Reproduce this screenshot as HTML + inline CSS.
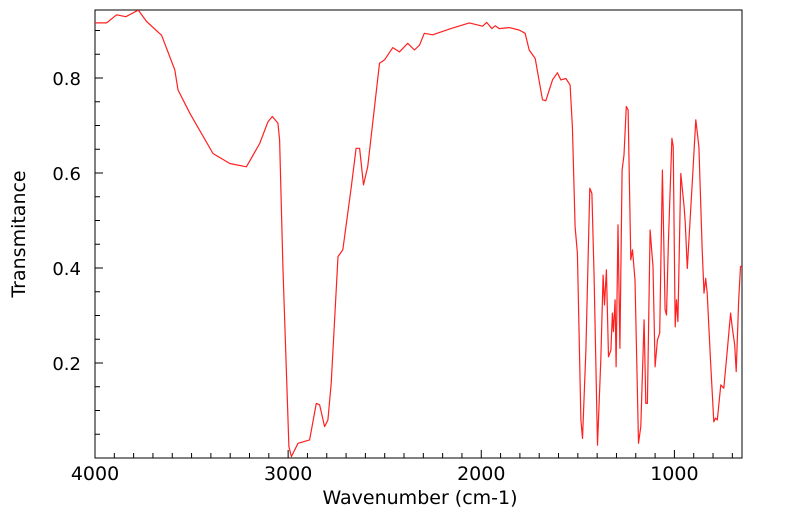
<!DOCTYPE html>
<html><head><meta charset="utf-8"><style>
body{margin:0;background:#fff;width:799px;height:516px;overflow:hidden;font-family:"DejaVu Sans",sans-serif}
</style></head><body>
<svg id="chart" width="799" height="516" xmlns="http://www.w3.org/2000/svg" font-family="DejaVu Sans, sans-serif"></svg>
<script>
const wavenumbers=[4000,3940,3888,3840,3776,3733,3655,3587,3570,3509,3389,3302,3216,3147,3104,3082,3053,3044,3027,2996,2983,2949,2889,2854,2837,2811,2794,2777,2742,2717,2673,2648,2630,2610,2588,2527,2501,2458,2424,2381,2346,2320,2295,2252,2157,2062,1993,1972,1945,1928,1907,1855,1804,1773,1752,1721,1683,1666,1631,1606,1588,1562,1540,1528,1514,1502,1484,1476,1458,1438,1427,1416,1398,1381,1369,1362,1352,1341,1329,1321,1316,1307,1302,1292,1282,1271,1261,1249,1240,1226,1217,1204,1186,1174,1157,1148,1140,1126,1111,1100,1088,1076,1062,1048,1041,1031,1013,1006,996,989,982,967,950,944,933,920,907,889,873,856,847,838,830,813,796,787,778,760,744,726,709,701,688,680,667,658,650];
const transmittance=[0.916,0.916,0.933,0.929,0.943,0.919,0.890,0.817,0.775,0.726,0.641,0.620,0.613,0.662,0.708,0.719,0.705,0.670,0.403,0.024,0.003,0.031,0.038,0.115,0.112,0.066,0.080,0.157,0.424,0.438,0.571,0.652,0.652,0.575,0.613,0.831,0.838,0.864,0.855,0.873,0.859,0.869,0.894,0.891,0.904,0.916,0.909,0.917,0.904,0.910,0.904,0.906,0.901,0.894,0.859,0.841,0.754,0.752,0.796,0.811,0.796,0.799,0.785,0.697,0.487,0.431,0.080,0.041,0.227,0.568,0.557,0.382,0.027,0.206,0.385,0.322,0.396,0.213,0.227,0.305,0.266,0.333,0.192,0.491,0.231,0.606,0.638,0.740,0.733,0.417,0.438,0.375,0.031,0.066,0.291,0.115,0.115,0.480,0.403,0.192,0.248,0.263,0.606,0.312,0.301,0.455,0.673,0.656,0.276,0.333,0.287,0.599,0.529,0.497,0.399,0.494,0.585,0.712,0.655,0.438,0.347,0.378,0.347,0.206,0.076,0.084,0.080,0.154,0.147,0.227,0.305,0.276,0.238,0.182,0.333,0.403,0.405];
const xTickLabels=[4000,3000,2000,1000];
const yTickLabels=[0.2,0.4,0.6,0.8];

const L=95,R=742,T=10,B=458;
const X0=4000,X1=650,Y0=0,Y1=(B-T)/475;
const xs=v=>L+(X0-v)/(X0-X1)*(R-L);
const ys=v=>B-(v-Y0)/(Y1-Y0)*(B-T);
const svg=document.getElementById('chart');
const NS='http://www.w3.org/2000/svg';
function mk(tag,attrs,parent){const e=document.createElementNS(NS,tag);for(const k in attrs)e.setAttribute(k,attrs[k]);(parent||svg).appendChild(e);return e;}

const frame=mk('rect',{x:L,y:T,width:R-L,height:B-T,fill:'none',stroke:'#000','stroke-width':1});



for(let v=4000;v>=700;v-=100){
  const major=v%1000===0;
  const t=mk('line',{x1:xs(v),x2:xs(v),y1:B,y2:B-(major?8:5),stroke:'#000','stroke-width':1});
  
  
}
xTickLabels.forEach(v=>{
  const t=mk('text',{x:xs(v),y:480,'text-anchor':'middle','font-size':19,fill:'#000'});
  t.textContent=v;
  
  
});
for(let i=1;i<=18;i++){
  const v=i*0.05;
  if(ys(v)<T)break;
  const major=i%4===0;
  const t=mk('line',{x1:L,x2:L+(major?8:5),y1:ys(v),y2:ys(v),stroke:'#000','stroke-width':1});
  
  
}
yTickLabels.forEach(v=>{
  const t=mk('text',{x:81,y:ys(v)+7,'text-anchor':'end','font-size':18,fill:'#000'});
  t.textContent=v.toFixed(1);
  
  
});
const xt=mk('text',{x:420,y:504,'text-anchor':'middle','font-size':19,fill:'#000'});
xt.textContent='Wavenumber (cm-1)';


const yt=mk('text',{x:0,y:0,transform:'translate(25,234) rotate(-90)','text-anchor':'middle','font-size':19,fill:'#000'});
yt.textContent='Transmitance';



const clip=mk('clipPath',{id:'pc'});
mk('rect',{x:L,y:T,width:R-L,height:B-T},clip);
let d='';
wavenumbers.forEach((w,i)=>{d+=(i?'L':'M')+xs(w).toFixed(1)+','+ys(transmittance[i]).toFixed(1);});
const line=mk('path',{d:d,fill:'none',stroke:'#ff2020','stroke-width':1.2,'clip-path':'url(#pc)','stroke-linejoin':'round'});


</script>
</body></html>
